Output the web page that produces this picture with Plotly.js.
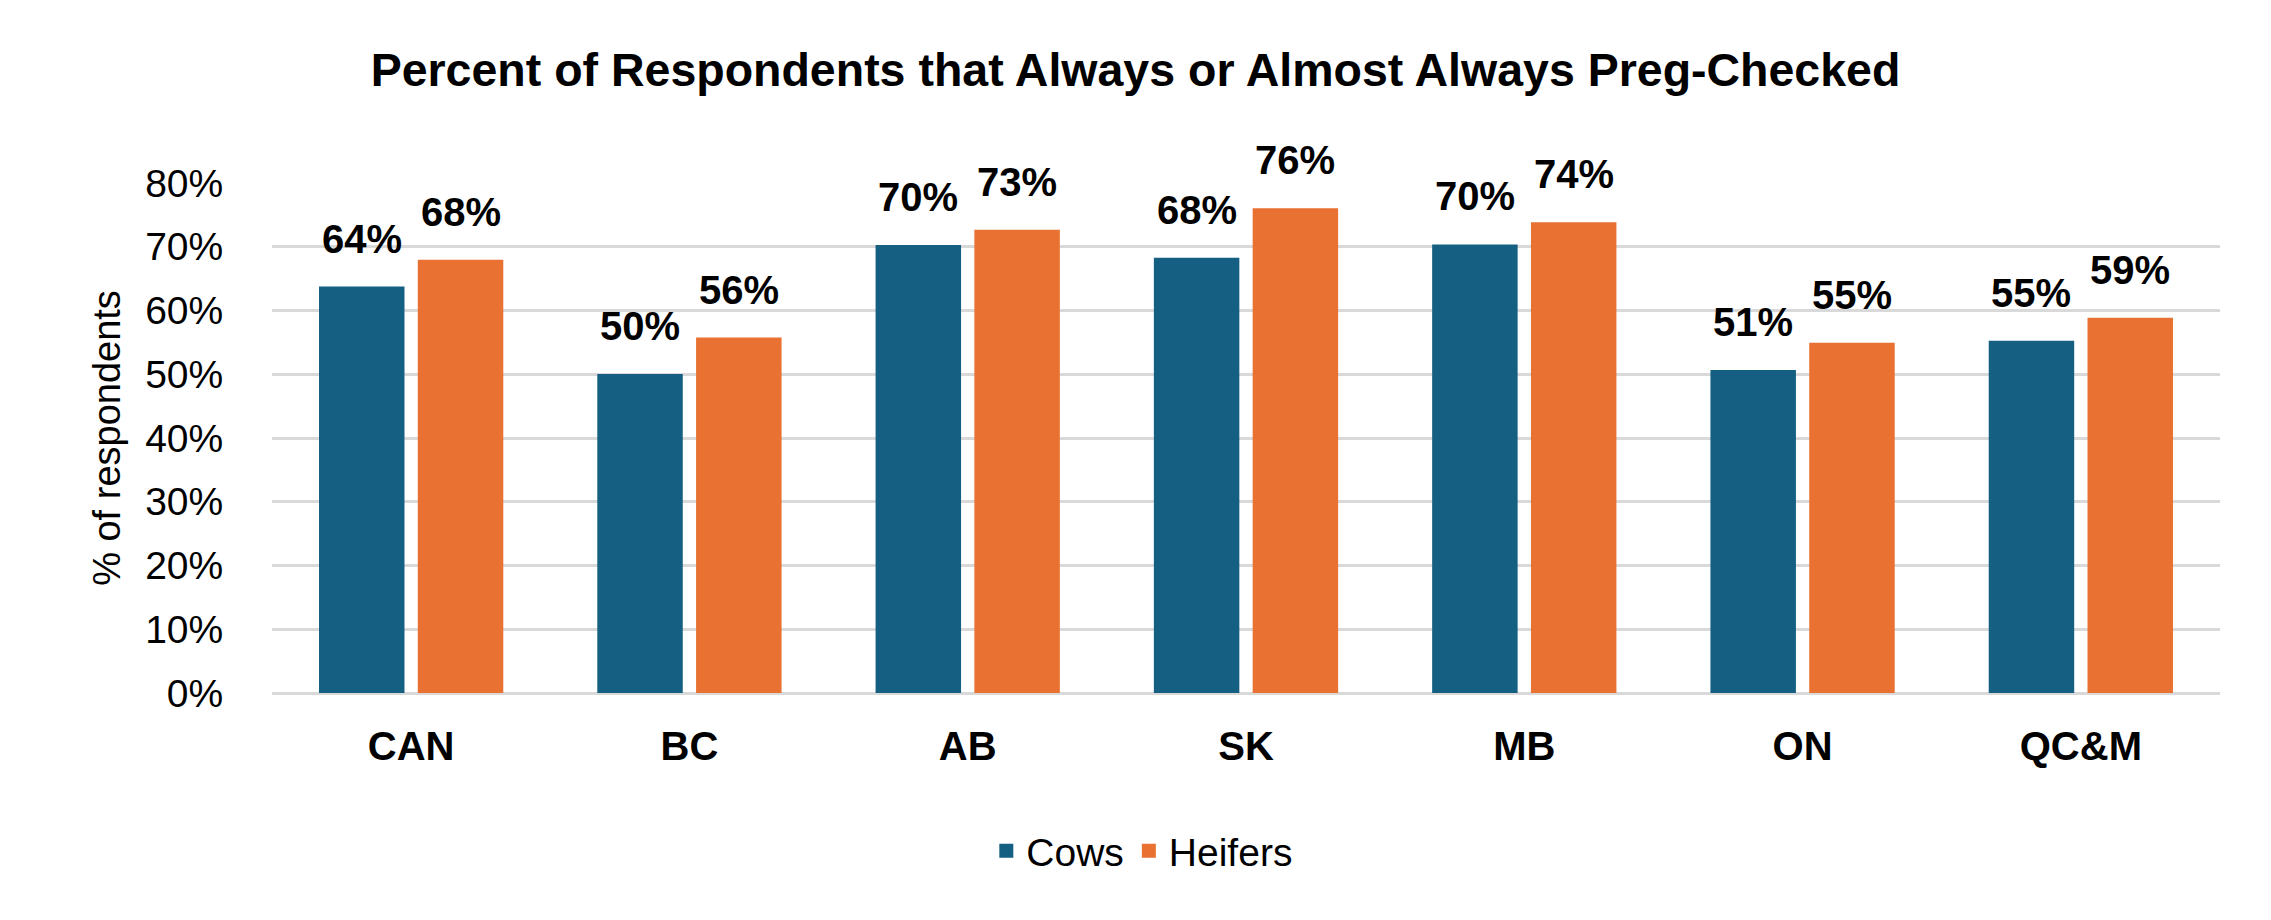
<!DOCTYPE html>
<html>
<head>
<meta charset="utf-8">
<script src="https://cdn.plot.ly/plotly-3.0.1.min.js"></script>
<style>
    html, body { margin: 0; padding: 0; background: #ffffff; }
    #chart { width: 2271px; height: 920px; }
</style>
</head>
<body>
<div id="chart"></div>
<script>
// regions along the x axis
let regions = ["CAN", "BC", "AB", "SK", "MB", "ON", "QC&M"];

// share of respondents that always or almost always preg-checked
let cows = [0.636, 0.499, 0.701, 0.681, 0.702, 0.505, 0.551];
let heifers = [0.678, 0.556, 0.725, 0.759, 0.737, 0.548, 0.587];

let series_names = ["Cows", "Heifers"];
let series_colors = ["#156082", "#E97132"];

// y axis ticks
let y_ticks = [0, 0.1, 0.2, 0.3, 0.4, 0.5, 0.6, 0.7, 0.8];

function buildChart() {
    /**
     * Draws the grouped bar chart.
     */

    let root = document.getElementById("chart");
    let font = "Liberation Sans, Arial, Helvetica, sans-serif";
    let all_series = [cows, heifers];

    // one bar trace per series
    // (outline in the same colour makes the legend swatch a bit bigger)
    let data = [];
    for (let i = 0; i < all_series.length; i++) {
        data.push({
            type: "bar",
            name: series_names[i],
            x: regions,
            y: all_series[i],
            hoverinfo: "skip",
            marker: {
                color: series_colors[i],
                line: {color: series_colors[i], width: 2}
            }
        });
    }

    // value labels above each bar
    let annotations = [];
    let shift = [-49.4, 49.4];
    for (let i = 0; i < all_series.length; i++) {
        let values = all_series[i];
        for (let j = 0; j < values.length; j++) {
            annotations.push({
                x: regions[j],
                y: values[j],
                xref: "x",
                yref: "y",
                text: Math.round(values[j] * 100) + "%",
                showarrow: false,
                xshift: shift[i],
                yshift: 49,
                yanchor: "middle",
                font: {
                    family: font,
                    size: 40,
                    color: "#000000",
                    weight: "bold"
                }
            });
        }
    }

    let layout = {
        width: 2271,
        height: 920,
        paper_bgcolor: "#ffffff",
        plot_bgcolor: "#ffffff",
        margin: {l: 272, r: 51, t: 183, b: 227},
        font: {family: font, color: "#000000"},
        title: {
            text: "<b>Percent of Respondents that Always or Almost Always Preg-Checked</b>",
            x: 0.5,
            xanchor: "center",
            y: 0.924,
            yanchor: "middle",
            font: {family: font, size: 46.5, color: "#000000"}
        },
        barmode: "group",
        bargap: 0.29,
        bargroupgap: 0.155,
        xaxis: {
            type: "category",
            showgrid: false,
            zeroline: false,
            showline: false,
            ticks: "outside",
            ticklen: 18,
            tickcolor: "rgba(0,0,0,0)",
            tickfont: {family: font, size: 40, color: "#000000", weight: "bold"},
            fixedrange: true
        },
        yaxis: {
            range: [0, 0.8],
            tickvals: y_ticks,
            tickformat: ".0%",
            showgrid: true,
            gridcolor: "#d9d9d9",
            gridwidth: 3,
            zeroline: true,
            zerolinecolor: "#d9d9d9",
            zerolinewidth: 3,
            showline: false,
            ticks: "outside",
            ticklen: 40,
            tickcolor: "rgba(0,0,0,0)",
            tickfont: {family: font, size: 39, color: "#000000"},
            title: {
                text: "% of respondents",
                standoff: 12,
                font: {family: font, size: 38, color: "#000000"}
            },
            fixedrange: true
        },
        showlegend: true,
        legend: {
            orientation: "h",
            xref: "container",
            yref: "container",
            x: 0.503,
            xanchor: "center",
            y: 0.075,
            yanchor: "middle",
            font: {family: font, size: 39, color: "#000000"},
            itemwidth: 30,
            traceorder: "normal"
        },
        annotations: annotations
    };

    let config = {
        displayModeBar: false,
        staticPlot: true
    };

    Plotly.newPlot(root, data, layout, config);
}

buildChart();
</script>
</body>
</html>
